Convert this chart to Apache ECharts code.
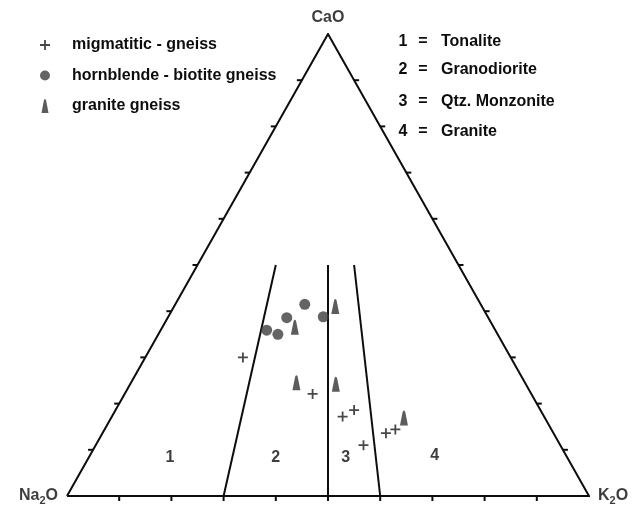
<!DOCTYPE html>
<html><head><meta charset="utf-8">
<script src="https://cdn.jsdelivr.net/npm/echarts@6/dist/echarts.min.js"></script>
<style>html,body{margin:0;padding:0;background:#fff}#c{width:639px;height:511px}</style>
</head><body><div id="c"></div>
<script>
// Ternary data, each point as [Na2O, K2O, CaO] (percent)
const seriesNames = ['migmatitic - gneiss', 'hornblende - biotite gneiss', 'granite gneiss'];
const migmatitic = [[51.3,18.7,30.0],[41.9,36.0,22.1],[38.6,44.2,17.2],[35.7,45.7,18.6],[37.7,51.3,11.0],[32.1,54.3,13.6],[29.9,55.7,14.4]];
const hornblendeBiotite = [[43.8,20.3,35.9],[42.1,22.9,35.0],[38.6,22.8,38.6],[33.7,24.8,41.5],[31.5,29.7,38.8]];
const graniteGneiss = [[38.1,25.4,36.5],[28.1,30.9,41.0],[43.8,31.7,24.5],[36.4,39.4,24.2],[27.0,56.1,16.9]];
const vertexNames = ['Na{s|2}O', 'K{s|2}O', 'CaO'];
const fieldNumbers = ['1', '2', '3', '4'];
const fieldNames = ['Tonalite', 'Granodiorite', 'Qtz. Monzonite', 'Granite'];
const fieldLabelPoints = [[76.1,15.5,8.4],[55.8,35.8,8.4],[42.4,49.2,8.4],[25.2,66.1,8.7]];
const boundaryRatios = [0.3, 0.5, 0.6];   // K2O/(Na2O+K2O)
const boundaryTopCaO = 50;
const tickValues = [10,20,30,40,50,60,70,80,90];

const FONT = '"Liberation Sans", Arial, sans-serif';
const INK = '#0d0d0d';

function toXY(t) {
  const s = t[0] + t[1] + t[2];
  const k = t[1] / s * 100, c = t[2] / s * 100;
  return [k + c / 2, c];
}

const outline = [[100,0,0],[0,100,0],[0,0,100],[100,0,0]].map(toXY);

const boundarySeries = boundaryRatios.map(r => ({
  type: 'line', silent: true, symbol: 'none', animation: false,
  lineStyle: { color: INK, width: 2 },
  data: [toXY([100 * (1 - r), 100 * r, 0]),
         toXY([(100 - boundaryTopCaO) * (1 - r), (100 - boundaryTopCaO) * r, boundaryTopCaO])]
}));

// ticks: edge 0 = base (Na-K), 1 = left (Na-Ca), 2 = right (K-Ca)
const tickData = [];
tickValues.forEach(v => {
  tickData.push([0, v].concat(toXY([100 - v, v, 0])));
  tickData.push([1, v].concat(toXY([100 - v, 0, v])));
  tickData.push([2, v].concat(toXY([0, 100 - v, v])));
});

const plusPath = 'path://M4.1,0H5.9V4.1H10V5.9H5.9V10H4.1V5.9H0V4.1H4.1Z';
const conePath = 'path://M5,0C6,0 6.5,1.5 6.9,3.5L10,20L0,20L3.1,3.5C3.5,1.5 4,0 5,0Z';

const vertexPos = [['left', 9], ['right', 9], ['top', 8]];
const TXT = { fontFamily: FONT, fontSize: 16, fontWeight: 'bold', color: INK };

const option = {
  backgroundColor: '#ffffff',
  animation: false,
  grid: { left: 67, right: 50, top: 34, bottom: 15 },
  xAxis: { type: 'value', min: 0, max: 100, show: false },
  yAxis: { type: 'value', min: 0, max: 100, show: false },
  legend: {
    orient: 'vertical', left: 35, top: 32, itemWidth: 10, itemHeight: 14, itemGap: 14.5,
    selectedMode: false, data: seriesNames,
    textStyle: Object.assign({}, TXT, { padding: [0,0,0,17], lineHeight: 14 })
  },
  graphic: fieldNumbers.map((n, i) => {
    const ys = [42, 70, 102, 132];
    const st = (x, text, align) => ({ type: 'text', style: { x: x, y: ys[i], text: text, textAlign: align, textVerticalAlign: 'middle', font: 'bold 16px ' + FONT, fill: INK } });
    return { type: 'group', silent: true,
      children: [ st(403, n, 'center'), st(423, '=', 'center'), st(441, fieldNames[i], 'left') ] };
  }),
  series: [
    { type: 'line', silent: true, symbol: 'none', data: outline,
      lineStyle: { color: INK, width: 2, join: 'miter' } },
    ...boundarySeries,
    { type: 'custom', silent: true, clip: false, data: tickData, encode: { x: 2, y: 3 },
      renderItem: function (params, api) {
        const edge = api.value(0);
        const p = api.coord([api.value(2), api.value(3)]);
        const d = edge === 0 ? [0, 5] : edge === 1 ? [-5, 0] : [5, 0];
        return { type: 'line', shape: { x1: p[0], y1: p[1], x2: p[0] + d[0], y2: p[1] + d[1] },
                 style: { stroke: INK, lineWidth: 2 } };
      } },
    { type: 'scatter', silent: true, symbolSize: 0,
      data: fieldLabelPoints.map((t, i) => ({ value: toXY(t), name: fieldNumbers[i] })),
      label: Object.assign({ show: true, position: 'inside', formatter: '{b}' }, TXT) },
    { type: 'scatter', silent: true, symbolSize: 0,
      data: [[100,0,0],[0,100,0],[0,0,100]].map((t, i) => ({
        value: toXY(t), name: vertexNames[i],
        label: Object.assign({ show: true, position: vertexPos[i][0], distance: vertexPos[i][1], formatter: '{b}',
          rich: { s: { fontFamily: FONT, fontSize: 11, fontWeight: 'bold', color: INK, padding: [9, 0, 0, 0] } } }, TXT)
      })) },
    { name: seriesNames[0], type: 'scatter', symbol: plusPath, symbolSize: 10, symbolKeepAspect: true,
      itemStyle: { color: '#1a1a1a' }, data: migmatitic.map(toXY), z: 5 },
    { name: seriesNames[1], type: 'scatter', symbol: 'circle', symbolSize: 11, symbolKeepAspect: true,
      itemStyle: { color: '#3d3d3d' }, data: hornblendeBiotite.map(toXY), z: 5 },
    { name: seriesNames[2], type: 'scatter', symbol: conePath, symbolSize: [8, 15],
      itemStyle: { color: '#333333' }, data: graniteGneiss.map(toXY), z: 5 }
  ]
};

const chart = echarts.init(document.getElementById('c'), null, { renderer: 'canvas' });
chart.setOption(option);
</script>
</body></html>
